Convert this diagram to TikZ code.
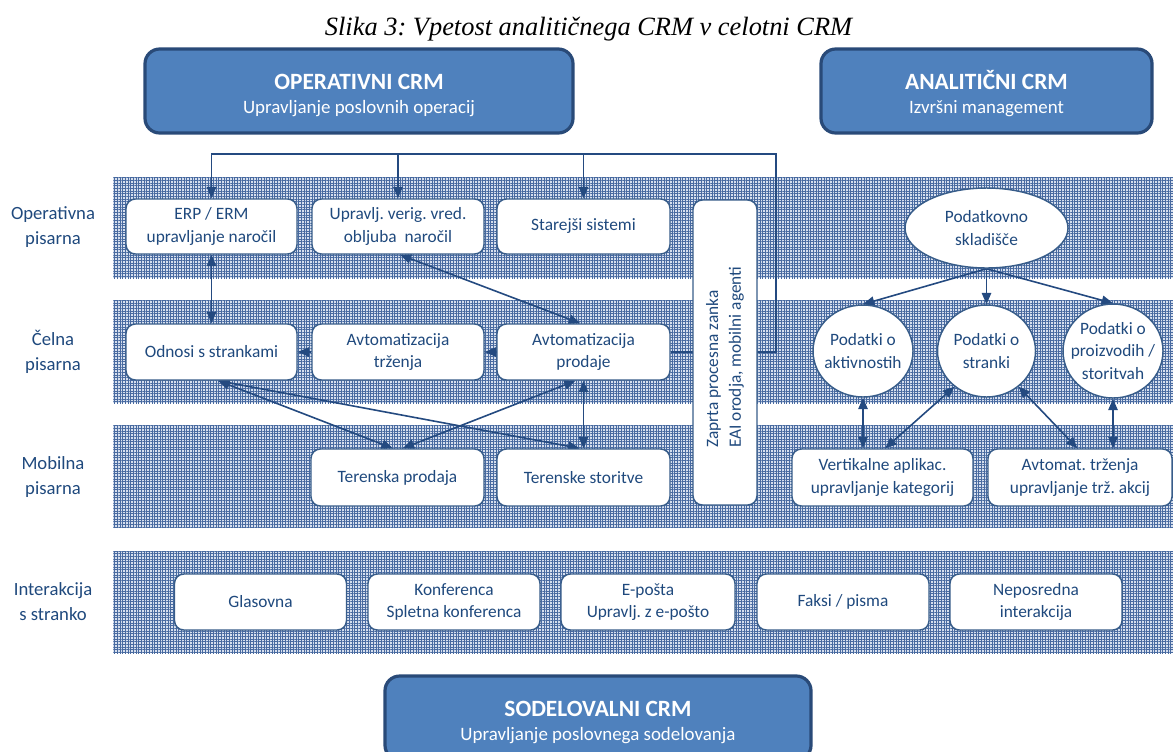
\documentclass[tikz,border=0pt]{standalone}
\usepackage{fontspec}
\setmainfont{Carlito}
\newfontfamily\captionfont{Liberation Serif}
\usetikzlibrary{arrows.meta,shapes.geometric,patterns.meta}
\frenchspacing

\definecolor{ink}{RGB}{31,73,125}
\definecolor{edge}{RGB}{56,93,138}
\definecolor{hdrfill}{RGB}{79,129,189}
\definecolor{hdredge}{RGB}{41,74,120}
\definecolor{bandbase}{RGB}{214,223,238}
\definecolor{bandgrid}{RGB}{72,106,160}
\definecolor{wire}{RGB}{36,74,128}

% bold first line of a header, with extra room above it
\newcommand\hdfont{\fontsize{17.5}{20}\selectfont\bfseries\rule{0pt}{18pt}}

\pgfdeclarelayer{bg}
\pgfdeclarelayer{wires}
\pgfsetlayers{bg,wires,main}

\begin{document}
\begin{tikzpicture}[x=0.75pt,y=-0.75pt,
  every node/.style={text=ink, align=center, inner sep=0pt,
    font=\fontsize{13}{17}\selectfont},
  wh/.style 2 args={minimum width={#1*0.75pt}, minimum height={#2*0.75pt}},
  box/.style={draw=edge, line width=1.1pt, fill=white, rounded corners=7pt},
  dat/.style={ellipse, draw=edge, line width=1.1pt, fill=white},
  hdr/.style={draw=hdredge, line width=2.4pt, fill=hdrfill, rounded corners=11pt,
    text=white, font=\fontsize{14.2}{20}\selectfont},
  rowlabel/.style={font=\fontsize{14}{18.75}\selectfont},
  conn/.style={draw=wire, line width=1.2pt},
  tip/.style={-{Triangle[length=8.5pt,width=7pt]}},
  both/.style={{Triangle[length=8.5pt,width=7pt]}-{Triangle[length=8.5pt,width=7pt]}},
]
\clip (0,0) rectangle (1173,751);
\useasboundingbox (0,0) rectangle (1173,751);

% caption
\node[anchor=base, text=black, font=\captionfont\itshape\fontsize{19.8}{24}\selectfont]
  (caption) at (588.5,35) {Slika 3: Vpetost analitičnega CRM v celotni CRM};

% the three CRM headers
\node[hdr, wh={428}{84}] (oper) at (359,91)
  {{\hdfont OPERATIVNI CRM}\\[-1.5pt]Upravljanje poslovnih operacij};
\node[hdr, wh={331}{84}] (anal) at (986.5,91)
  {{\hdfont ANALITIČNI CRM}\\[-1.5pt]Izvršni management};
\node[hdr, wh={426}{84}] (sod) at (598,718)
  {{\hdfont SODELOVALNI CRM}\\[-1.5pt]Upravljanje poslovnega sodelovanja};

% hatched bands
\begin{pgfonlayer}{bg}
\foreach \ya/\yb in {177/278, 300/403, 425/528, 551/653} {
  \fill[bandbase] (113,\ya) rectangle (1173,\yb);
  \fill[pattern={Lines[angle=0,distance=2pt,line width=0.45pt]}, pattern color=bandgrid]
    (113,\ya) rectangle (1173,\yb);
  \fill[pattern={Lines[angle=90,distance=2pt,line width=0.45pt]}, pattern color=bandgrid]
    (113,\ya) rectangle (1173,\yb);
}
\end{pgfonlayer}

% row labels
\node[rowlabel] (lop) at (53,227.5) {Operativna\\pisarna};
\node[rowlabel] (lce) at (53,352) {Čelna\\pisarna};
\node[rowlabel] (lmo) at (53,477) {Mobilna\\pisarna};
\node[rowlabel] (lin) at (53,602) {Interakcija\\s stranko};

% operative back office
\node[box, wh={171}{55}] (erp) at (211.5,226.5) {ERP / ERM\\upravljanje naročil};
\node[box, wh={172}{55}] (vrig) at (398,226.5) {Upravlj. verig. vred.\\obljuba\ \ naročil};
\node[box, wh={173}{55}] (stare) at (583.5,226.5) {Starejši sistemi};

% front office
\node[box, wh={171}{56}] (odnosi) at (211.5,352) {Odnosi s strankami};
\node[box, wh={172}{56}] (trz) at (398,352) {Avtomatizacija\\trženja};
\node[box, wh={173}{56}] (prod) at (583.5,352) {Avtomatizacija\\prodaje};

% mobile office
\node[box, wh={173}{57}] (tprod) at (397.5,477.5) {Terenska prodaja};
\node[box, wh={173}{57}] (tstor) at (583.5,477.5) {Terenske storitve};

% closed loop column (text starts low, left aligned along the column)
\node[box, rotate=90, align=left, wh={305}{64}] (zaprta) at (725,352.5)
  {Zaprta procesna zanka\\EAI orodja, mobilni agenti\hspace*{7pt}};

% analytical part
\node[dat, wh={163}{80}] (dw) at (986.5,228) {Podatkovno\\skladišče};
\node[dat, wh={100}{92}, label={[align=center]center:Podatki o\\aktivnostih}] (pakt) at (863,351) {};
\node[dat, wh={98}{92}, label={[align=center]center:Podatki o\\stranki}] (pstr) at (986.5,351) {};
\node[dat, wh={100}{94}, label={[align=center]center:Podatki o\\proizvodih /\\storitvah}] (pproi) at (1113,351) {};
\node[box, wh={181}{57}] (vert) at (882.5,477.5) {Vertikalne aplikac.\\upravljanje kategorij};
\node[box, wh={184}{57}] (avtm) at (1080,477.5) {Avtomat. trženja\\upravljanje trž. akcij};

% customer interaction
\node[box, wh={172}{56}] (glas) at (260.5,602) {Glasovna};
\node[box, wh={172}{56}] (konf) at (454,602) {Konferenca\\Spletna konferenca};
\node[box, wh={174}{56}] (epos) at (648,602) {E-pošta\\Upravlj. z e-pošto};
\node[box, wh={172}{56}] (faks) at (843,602) {Faksi / pisma};
\node[box, wh={172}{56}] (nepo) at (1036,602) {Neposredna\\interakcija};

% connectors
\coordinate (loopA) at (776,352);
\coordinate (loopB) at (776,154);
\coordinate (loopC) at (211.5,154);
\begin{pgfonlayer}{wires}
\draw[conn, tip] (prod.east) -- (loopA) -- (loopB) -- (loopC) -- (erp.north);
\draw[conn, tip] (vrig.north |- loopB) -- (vrig.north);
\draw[conn, tip] (stare.north |- loopB) -- (stare.north);

\draw[conn, both] (erp.south) -- (odnosi.north);
\draw[conn, both] ([xshift=1.5pt]vrig.south) -- ([xshift=-2.5pt]prod.north);
\draw[conn, tip] (prod.west) -- (trz.east);
\draw[conn, tip] (trz.west) -- (odnosi.east);

\draw[conn, both] ([xshift=5pt]odnosi.south) -- ([xshift=-3.5pt]tprod.north);
\draw[conn, both] ([xshift=5pt]odnosi.south) -- ([xshift=-3pt]tstor.north);
\draw[conn, both] ([xshift=-6pt]prod.south) -- ([xshift=4pt]tprod.north);
\draw[conn, both] (prod.south) -- (tstor.north);

\draw[conn, tip] (dw.south) -- (pakt.north);
\draw[conn, tip] (dw.south) -- (pstr.north);
\draw[conn, tip] (dw.south) -- (pproi.north);

\draw[conn, both] (pakt.south) -- (pakt.south |- vert.north);
\draw[conn, both] (pstr.-132) -- ([xshift=2pt]vert.north);
\draw[conn, both] (pstr.-48) -- ([xshift=-2pt]avtm.north);
\draw[conn, both] (pproi.south) -- (pproi.south |- avtm.north);
\end{pgfonlayer}
\end{tikzpicture}
\end{document}
